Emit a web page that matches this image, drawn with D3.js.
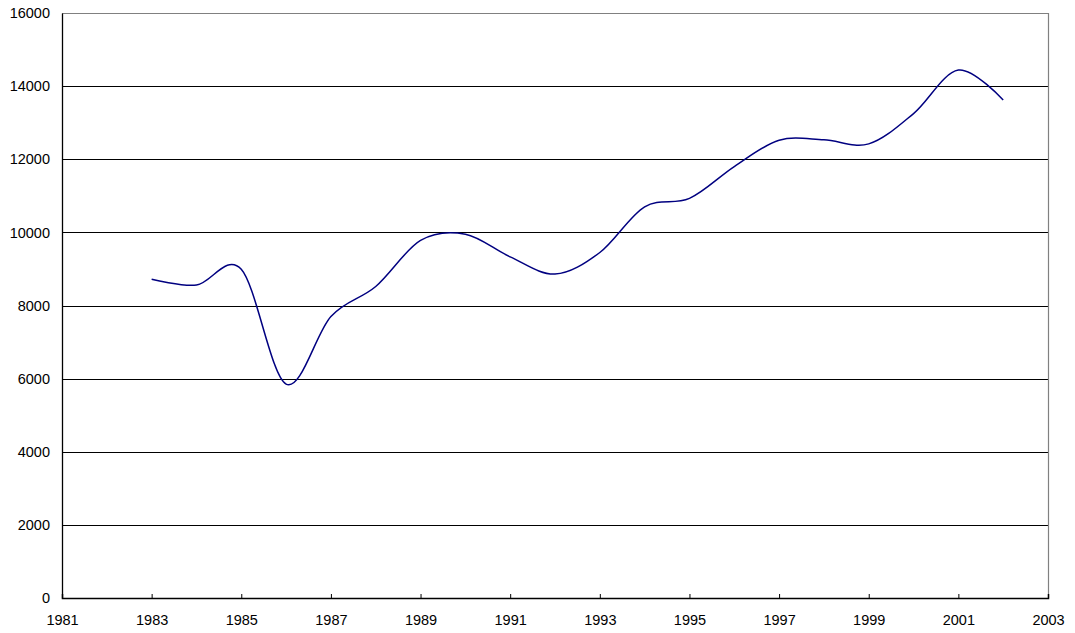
<!DOCTYPE html>
<html>
<head>
<meta charset="utf-8">
<script src="https://cdn.jsdelivr.net/npm/d3@7"></script>
<style>
  body { margin: 0; background: #fff; }
  svg { display: block; font-family: "Liberation Sans", Arial, sans-serif; }
</style>
</head>
<body>
<div id="chart"></div>
<script>
// yearly values
var years = [1983, 1984, 1985, 1986, 1987, 1988, 1989, 1990, 1991, 1992,
             1993, 1994, 1995, 1996, 1997, 1998, 1999, 2000, 2001, 2002];
var values = [8720, 8560, 8990, 5850, 7700, 8520, 9780, 9950, 9330, 8860,
              9450, 10700, 10930, 11800, 12520, 12530, 12420, 13250, 14440, 13620];
var xTicks = [1981, 1983, 1985, 1987, 1989, 1991, 1993, 1995, 1997, 1999, 2001, 2003];
var yTicks = [0, 2000, 4000, 6000, 8000, 10000, 12000, 14000, 16000];

var W = 1075, H = 633;
var margin = {top: 13, right: 27, bottom: 35, left: 62};
var width = W - margin.left - margin.right,
    height = H - margin.top - margin.bottom;

var data = years.map(function(d, i) { return {year: d, value: values[i]}; });

var svg = d3.select("#chart").append("svg")
    .attr("width", W)
    .attr("height", H)
  .append("g")
    .attr("transform", "translate(" + margin.left + "," + margin.top + ")");

var x = d3.scaleLinear().domain([1981, 2003]).range([0, width]);
var y = d3.scaleLinear().domain([0, 16000]).range([height, 0]);

// horizontal gridlines
svg.selectAll(".grid")
    .data(yTicks.filter(function(d) { return d > 0 && d < 16000; }))
  .enter().append("line")
    .attr("class", "grid")
    .attr("x1", 0).attr("x2", width)
    .attr("y1", function(d) { return Math.round(y(d)) + 0.5; })
    .attr("y2", function(d) { return Math.round(y(d)) + 0.5; })
    .attr("stroke", "#000")
    .attr("stroke-width", 1);

// gray frame top and right
svg.append("path")
    .attr("d", "M0," + (Math.round(y(16000)) + 0.5) + "H" + (Math.round(width) + 0.5) + "V" + height)
    .attr("fill", "none")
    .attr("stroke", "#808080")
    .attr("stroke-width", 1.2);

// y axis
var yAxis = svg.append("g")
    .call(d3.axisLeft(y).tickValues(yTicks).tickSize(0).tickPadding(12).tickFormat(d3.format("d")));
yAxis.select(".domain").attr("stroke", "#000").attr("stroke-width", 1.3);
yAxis.selectAll("text").attr("font-size", 14.5).attr("fill", "#000")
    .attr("font-family", "'Liberation Sans', Arial, sans-serif");

// x axis, ticks pointing inward
var xAxis = svg.append("g")
    .attr("transform", "translate(0," + height + ")")
    .call(d3.axisBottom(x).tickValues(xTicks).tickSize(-4).tickPadding(17).tickFormat(d3.format("d")));
xAxis.select(".domain").attr("stroke", "#000").attr("stroke-width", 1.5);
xAxis.selectAll(".tick line").attr("stroke", "#000");
xAxis.selectAll("text").attr("font-size", 14.5).attr("fill", "#000")
    .attr("font-family", "'Liberation Sans', Arial, sans-serif");

// smoothed line
svg.append("path")
    .datum(data)
    .attr("fill", "none")
    .attr("stroke", "#000080")
    .attr("stroke-width", 1.5)
    .attr("d", d3.line()
      .curve(d3.curveCatmullRom.alpha(0))
      .x(function(d) { return x(d.year); })
      .y(function(d) { return y(d.value); }));
</script>
</body>
</html>
